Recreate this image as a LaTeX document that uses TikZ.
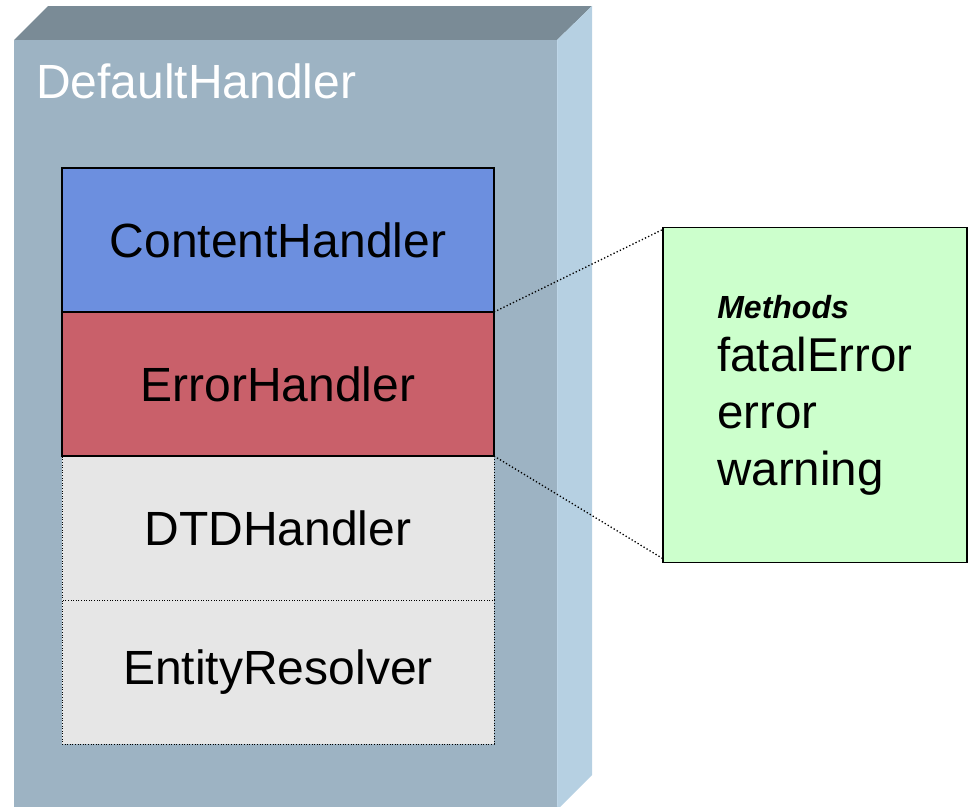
\documentclass[tikz,border=0pt]{standalone}
\usepackage{fontspec}
\setmainfont{Liberation Sans}
\usetikzlibrary{positioning}

\definecolor{boxfront}{RGB}{157,179,195}
\definecolor{boxtop}{RGB}{122,139,150}
\definecolor{boxside}{RGB}{182,208,226}
\definecolor{boxedge}{RGB}{190,214,232}
\definecolor{contentblue}{RGB}{108,143,223}
\definecolor{errorred}{RGB}{201,96,106}
\definecolor{plaingrey}{RGB}{230,230,230}
\definecolor{methodgreen}{RGB}{204,255,204}

\begin{document}
\begin{tikzpicture}[x=1pt,y=-1pt,
  handler/.style={draw=black,line width=1.5pt,outer sep=0pt,inner sep=0pt,
    minimum width=432pt,minimum height=144pt,font=\fontsize{48}{56}\selectfont},
  plainhandler/.style={handler,line width=1pt,dash pattern=on 1pt off 1.6pt,fill=plaingrey},
  link/.style={line width=1.3pt,dash pattern=on 1.3pt off 2.2pt}]
  \useasboundingbox (0,0) rectangle (969,806);
  \coordinate (F1) at (14,40);
  \coordinate (F2) at (557,40);
  \coordinate (T1) at (48,6);
  \coordinate (T2) at (592,6);
  \fill[boxtop] (F1) -- (T1) -- (T2) -- (F2) -- cycle;
  \fill[boxside] (F2) -- (T2) -- (592,775) -- (557,810) -- cycle;
  \fill[boxfront] (F1) rectangle (557,810);
  \draw[boxedge,line width=1pt] (F2) -- (557,806);
  \node[anchor=base west,inner sep=0pt,text=white,font=\fontsize{48}{56}\selectfont]
    (title) at (36,98) {DefaultHandler};
  \node[plainhandler,anchor=north west] (dtd) at (62,456) {DTDHandler};
  \node[plainhandler,below=0pt of dtd] (entity) {EntityResolver};
  \node[handler,fill=errorred,above=0pt of dtd] (error) {ErrorHandler};
  \node[handler,fill=contentblue,above=0pt of error] (content) {ContentHandler};
  \node[draw=black,line width=1.5pt,fill=methodgreen,minimum width=304pt,minimum height=335pt,
    align=left,font=\fontsize{47.5}{57}\selectfont] (methods) at (815,395)
    {{\fontsize{32}{38}\selectfont\bfseries\itshape Methods}\\[-4pt]
     fatalError\\ error\\ warning};
  \draw[link] (content.south east) -- ([yshift=-3pt]methods.north west);
  \draw[link] (error.south east) -- ([yshift=5pt]methods.south west);
\end{tikzpicture}
\end{document}
